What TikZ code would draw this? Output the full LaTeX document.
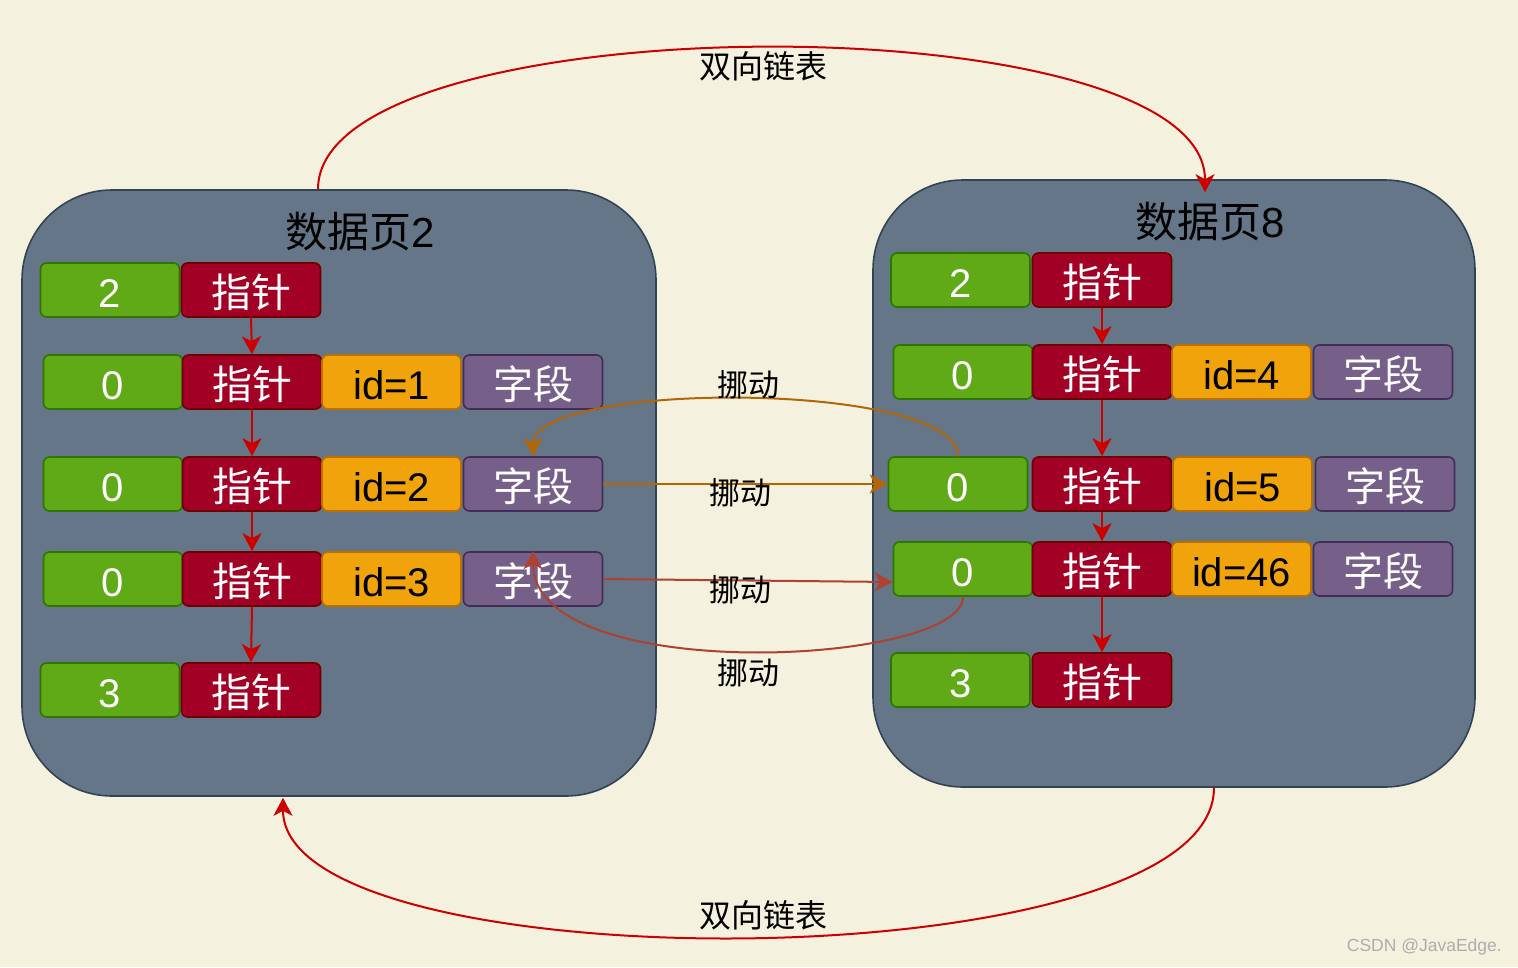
\documentclass[tikz,border=0pt]{standalone}
\usepackage{fontspec}
\setmainfont{Liberation Sans}
\newfontfamily\cjk{Noto Sans CJK SC}
\usetikzlibrary{arrows.meta,calc}

\definecolor{bg}{HTML}{F4F1DE}
\definecolor{pagefill}{HTML}{647687}
\definecolor{pageline}{HTML}{314354}
\definecolor{gfill}{HTML}{60A917}
\definecolor{gline}{HTML}{2D7600}
\definecolor{rfill}{HTML}{A20025}
\definecolor{rline}{HTML}{6F0000}
\definecolor{ofill}{HTML}{F0A30A}
\definecolor{oline}{HTML}{BD7000}
\definecolor{pfill}{HTML}{76608A}
\definecolor{pline}{HTML}{432D57}
\definecolor{linkred}{HTML}{CC0000}
\definecolor{moveorange}{HTML}{B46504}
\definecolor{movered}{HTML}{AE4132}

\tikzset{
  page/.style={draw=pageline, fill=pagefill, line width=1.6pt, rounded corners=90pt, inner sep=0pt},
  pagetitle/.style={font=\fontsize{42}{42}\selectfont, text=black, inner sep=0pt},
  cell/.style={line width=1.6pt, rounded corners=6pt, minimum width=139pt, minimum height=54pt,
    inner sep=0pt, text height=36pt, text depth=1.4pt, font=\fontsize{40}{40}\selectfont, text=white},
  gcell/.style={cell, draw=gline, fill=gfill},
  rcell/.style={cell, draw=rline, fill=rfill},
  ocell/.style={cell, draw=oline, fill=ofill, text=black},
  pcell/.style={cell, draw=pline, fill=pfill},
  tip/.style={-{Stealth[length=18pt,width=19pt,inset=5pt]}},
  nextptr/.style={tip, draw=linkred, fill=linkred, line width=2pt},
  listlink/.style={tip, draw=linkred, line width=2pt},
  moveA/.style={tip, draw=moveorange, line width=2pt},
  moveB/.style={tip, draw=movered, line width=2pt},
  biglabel/.style={font=\fontsize{32}{32}\selectfont\cjk, text=black, inner sep=0pt},
  movelabel/.style={font=\fontsize{31}{31}\selectfont\cjk, text=black, inner sep=0pt},
}

\begin{document}
\begin{tikzpicture}[x=1pt,y=-1pt]
\fill[bg] (0,0) rectangle (1518,967);
\useasboundingbox (0,0) rectangle (1518,967);

% the two data pages
\node[page, minimum width=634pt, minimum height=606pt] (pageL) at (339,493) {};
\node[page, minimum width=602pt, minimum height=607pt] (pageR) at (1174,483.5) {};
\node[pagetitle] (titleL) at (360,232) {{\cjk 数据页}2};
\node[pagetitle] (titleR) at (1210,222) {{\cjk 数据页}8};

% records of page 2
\node[gcell] (gL1) at (110,290) {2};
\node[rcell] (rL1) at (251,290) {\cjk 指针};

\node[gcell] (gL2) at (113,382) {0};
\node[rcell] (rL2) at (252,382) {\cjk 指针};
\node[ocell] (oL2) at (391.5,382) {id=1};
\node[pcell] (pL2) at (533,382) {\cjk 字段};

\node[gcell] (gL3) at (113,484) {0};
\node[rcell] (rL3) at (252,484) {\cjk 指针};
\node[ocell] (oL3) at (391.5,484) {id=2};
\node[pcell] (pL3) at (533,484) {\cjk 字段};

\node[gcell] (gL4) at (113,579) {0};
\node[rcell] (rL4) at (252,579) {\cjk 指针};
\node[ocell] (oL4) at (391.5,579) {id=3};
\node[pcell] (pL4) at (533,579) {\cjk 字段};

\node[gcell] (gL5) at (110,690) {3};
\node[rcell] (rL5) at (251,690) {\cjk 指针};

% records of page 8
\node[gcell] (gR1) at (960.5,280) {2};
\node[rcell] (rR1) at (1102,280) {\cjk 指针};

\node[gcell] (gR2) at (963,372) {0};
\node[rcell] (rR2) at (1102,372) {\cjk 指针};
\node[ocell] (oR2) at (1241.5,372) {id=4};
\node[pcell] (pR2) at (1383,372) {\cjk 字段};

\node[gcell] (gR3) at (958,484) {0};
\node[rcell] (rR3) at (1102,484) {\cjk 指针};
\node[ocell] (oR3) at (1242.5,484) {id=5};
\node[pcell] (pR3) at (1385,484) {\cjk 字段};

\node[gcell] (gR4) at (963,569) {0};
\node[rcell] (rR4) at (1102,569) {\cjk 指针};
\node[ocell] (oR4) at (1241.5,569) {id=46};
\node[pcell] (pR4) at (1383,569) {\cjk 字段};

\node[gcell] (gR5) at (960.5,680) {3};
\node[rcell] (rR5) at (1102,680) {\cjk 指针};

% record chains inside each page
\draw[nextptr] (rL1.south) -- (rL2.north);
\draw[nextptr] (rL2.south) -- (rL3.north);
\draw[nextptr] (rL3.south) -- (rL4.north);
\draw[nextptr] (rL4.south) -- (rL5.north);
\draw[nextptr] (rR1.south) -- (rR2.north);
\draw[nextptr] (rR2.south) -- (rR3.north);
\draw[nextptr] (rR3.south) -- (rR4.north);
\draw[nextptr] (rR4.south) -- (rR5.north);

% doubly linked list between the pages
\draw[listlink] ([xshift=-21pt]pageL.north) .. controls +(0,-187) and +(0,-193) .. ([xshift=31pt,yshift=-13pt]pageR.north);
\draw[listlink] ([xshift=40pt]pageR.south) .. controls +(0,196) and +(0,188) .. ([xshift=-56pt,yshift=-1pt]pageL.south);
\node[biglabel] (linkTop) at (763,66) {双向链表};
\node[biglabel] (linkBot) at (763,915) {双向链表};

% records moved between the pages
\draw[moveA] (gR3.north) .. controls +(0,-76) and +(0,-76) .. (pL3.north);
\draw[moveA] (pL3.east) -- (gR3.west);
\draw[moveB] (pL4.east) -- ([yshift=-13pt]gR4.west);
\draw[moveB] (gR4.south) .. controls +(0,69) and +(0,136) .. (pL4.north);
\node[movelabel] (mv1) at (748,385) {挪动};
\node[movelabel] (mv2) at (740,493) {挪动};
\node[movelabel] (mv3) at (740,590) {挪动};
\node[movelabel] (mv4) at (748,673) {挪动};

\node[font=\fontsize{17.5}{17.5}\selectfont, text=black!32, anchor=east, inner sep=0pt] (mark) at (1502,947) {CSDN @JavaEdge.};
\end{tikzpicture}
\end{document}
